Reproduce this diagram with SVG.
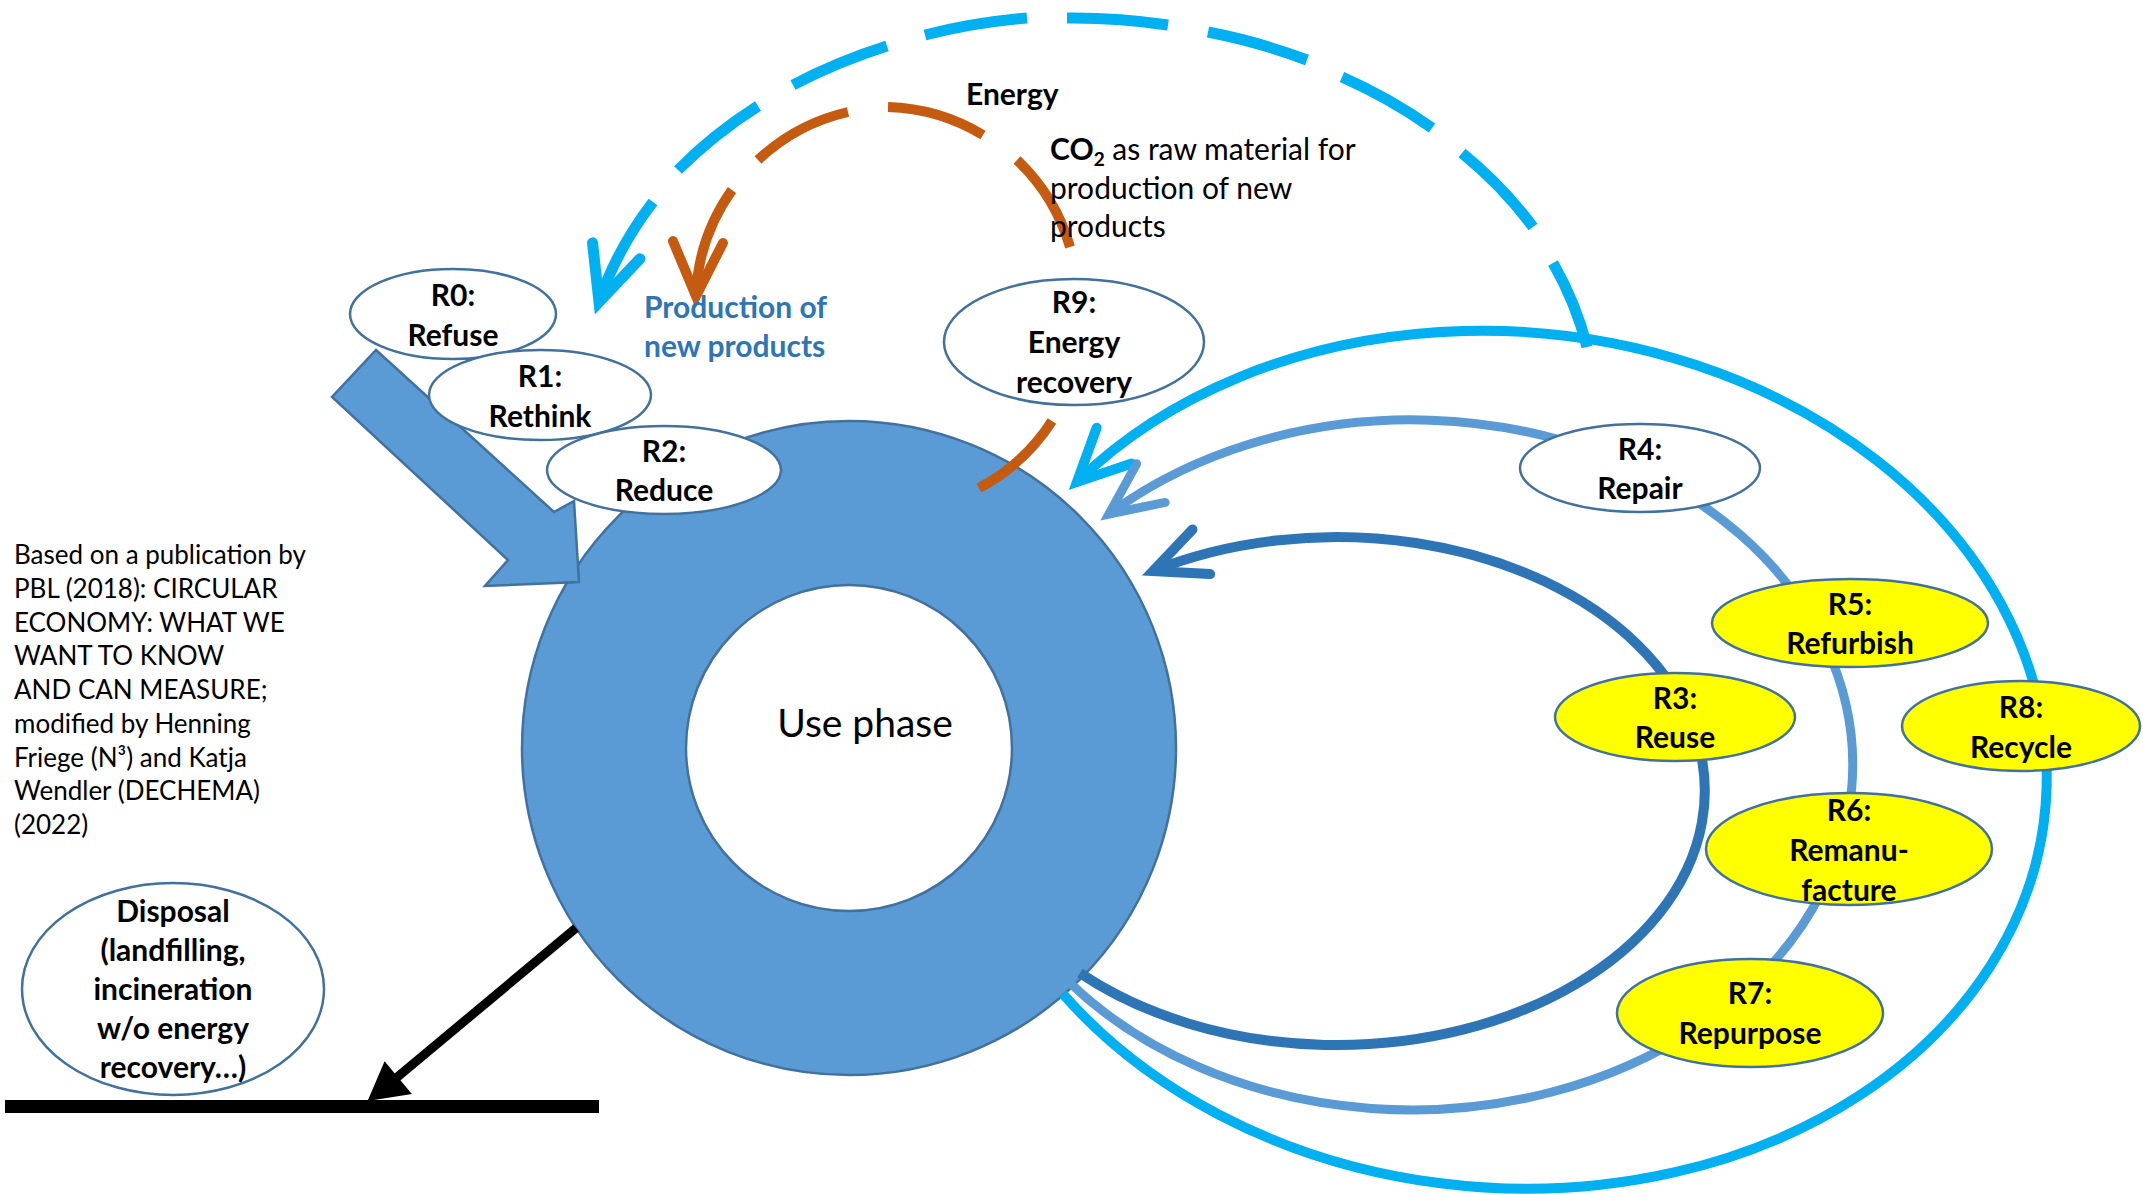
<svg xmlns="http://www.w3.org/2000/svg" width="2143" height="1195" viewBox="0 0 2143 1195">
<style>
.lbl{font-family:Lato,"Liberation Sans",sans-serif;font-weight:bold;font-size:30px;fill:#000;text-anchor:middle}
.note{font-family:Lato,"Liberation Sans",sans-serif;font-size:26px;fill:#000}
.co2{font-family:Lato,"Liberation Sans",sans-serif;font-size:30px;fill:#000}
.node{stroke:#41719C;stroke-width:2.5}
.wf{fill:#fff}
.yf{fill:#FFFF00}
.loop{fill:none}
.dash{fill:none;stroke-linecap:butt}
</style>
<defs>
<marker id="aDark" markerUnits="userSpaceOnUse" orient="auto" overflow="visible" markerWidth="1" markerHeight="1"><path d="M-52,-24 L0,0 L-52,24" fill="none" stroke="#2E75B6" stroke-width="10" stroke-linecap="round"/></marker>
<marker id="aMid" markerUnits="userSpaceOnUse" orient="auto" overflow="visible" markerWidth="1" markerHeight="1"><path d="M-52,-24 L0,0 L-52,24" fill="none" stroke="#5B9BD5" stroke-width="9" stroke-linecap="round"/></marker>
<marker id="aCyan" markerUnits="userSpaceOnUse" orient="auto" overflow="visible" markerWidth="1" markerHeight="1"><path d="M-52,-25 L0,0 L-52,25" fill="none" stroke="#00B0F0" stroke-width="10" stroke-linecap="round"/></marker>
<marker id="aCyanD" markerUnits="userSpaceOnUse" orient="auto" overflow="visible" markerWidth="1" markerHeight="1"><path d="M-54,-25 L0,0 L-54,25" fill="none" stroke="#00B0F0" stroke-width="11" stroke-linecap="round"/></marker>
<marker id="aOrange" markerUnits="userSpaceOnUse" orient="auto" overflow="visible" markerWidth="1" markerHeight="1"><path d="M-54,-25 L0,0 L-54,25" fill="none" stroke="#C55A11" stroke-width="10" stroke-linecap="round"/></marker>
</defs>
<rect width="2143" height="1195" fill="#fff"/>

<g id="use-phase">
<circle cx="849" cy="748" r="327" fill="#5B9BD5" class="node"/>
<circle cx="849" cy="748" r="163" class="node wf"/>
<text x="865" y="737" style="font-family:Lato,'Liberation Sans',sans-serif;font-size:39px;text-anchor:middle">Use phase</text>
</g>

<g id="connectors">
<path class="loop" stroke="#00B0F0" stroke-width="10" d="M1063,994 A543,428 5 1 0 1077,482" marker-end="url(#aCyan)"/>
<path class="loop" stroke="#5B9BD5" stroke-width="9" d="M1069,982 A441,345 0 1 0 1109,514" marker-end="url(#aMid)"/>
<path class="loop" stroke="#2E75B6" stroke-width="10" d="M1080,973 A368,254 0 1 0 1153,571" marker-end="url(#aDark)"/>
<g class="dash" stroke="#00B0F0" stroke-width="11">
<path d="M1587,347 A502,387 0 0 0 1553,263"/>
<path d="M1533,227 A502,387 0 0 0 1462,153"/>
<path d="M1432,128 A502,387 0 0 0 1342,77"/>
<path d="M1307,60 A502,387 0 0 0 1208,32"/>
<path d="M1168,25 A502,387 0 0 0 1067,18"/>
<path d="M1027,18 A502,387 0 0 0 925,35"/>
<path d="M887,46 A502,387 0 0 0 793,85"/>
<path d="M758,106 A502,387 0 0 0 678,170"/>
<path d="M653,202 A502,387 0 0 0 599,302" marker-end="url(#aCyanD)"/>
</g>
<g class="dash" stroke="#C55A11" stroke-width="10">
<path d="M979,488 A195,195 0 0 0 1052,421"/>
<path d="M1070,247 A195,195 0 0 0 1017,160"/>
<path d="M983,135 A195,195 0 0 0 888,107"/>
<path d="M848,112 A195,195 0 0 0 758,160"/>
<path d="M732,190 A195,195 0 0 0 696,296" marker-end="url(#aOrange)"/>
</g>
<line x1="576" y1="928" x2="395" y2="1079" stroke="#000" stroke-width="9"/>
<polygon points="370,1099 385,1064 409,1093" fill="#000" stroke="#000" stroke-width="3" stroke-linejoin="miter"/>
</g>

<g id="ground">
<rect x="5" y="1100" width="594" height="13" fill="#000"/>
</g>

<g id="inflow-arrow">
<polygon points="376,350 554,512 574,501 579,582 485,586 508,560 332,397" fill="#5B9BD5" stroke="#41719C" stroke-width="2.5" stroke-linejoin="miter"/>
</g>

<g id="R0"><ellipse cx="453" cy="314" rx="103" ry="45" class="node wf"/><text class="lbl" x="453" y="306">R0:</text><text class="lbl" x="453" y="346">Refuse</text></g>
<g id="R1"><ellipse cx="540" cy="395" rx="111" ry="45" class="node wf"/><text class="lbl" x="540" y="387">R1:</text><text class="lbl" x="540" y="427">Rethink</text></g>
<g id="R2"><ellipse cx="664" cy="470" rx="117" ry="44" class="node wf"/><text class="lbl" x="664" y="462">R2:</text><text class="lbl" x="664" y="501">Reduce</text></g>
<g id="R9"><ellipse cx="1074" cy="342" rx="130" ry="63" class="node wf"/><text class="lbl" x="1074" y="313">R9:</text><text class="lbl" x="1074" y="353">Energy</text><text class="lbl" x="1074" y="393">recovery</text></g>
<g id="R4"><ellipse cx="1640" cy="468" rx="120" ry="44" class="node wf"/><text class="lbl" x="1640" y="460">R4:</text><text class="lbl" x="1640" y="499">Repair</text></g>
<g id="R5"><ellipse cx="1850" cy="623" rx="138" ry="44" class="node yf"/><text class="lbl" x="1850" y="615">R5:</text><text class="lbl" x="1850" y="654">Refurbish</text></g>
<g id="R3"><ellipse cx="1675" cy="717" rx="120" ry="44" class="node yf"/><text class="lbl" x="1675" y="709">R3:</text><text class="lbl" x="1675" y="748">Reuse</text></g>
<g id="R8"><ellipse cx="2021" cy="726" rx="119" ry="45" class="node yf"/><text class="lbl" x="2021" y="718">R8:</text><text class="lbl" x="2021" y="758">Recycle</text></g>
<g id="R6"><ellipse cx="1849" cy="849" rx="143" ry="56" class="node yf"/><text class="lbl" x="1849" y="821">R6:</text><text class="lbl" x="1849" y="861">Remanu-</text><text class="lbl" x="1849" y="901">facture</text></g>
<g id="R7"><ellipse cx="1750" cy="1013" rx="133" ry="54" class="node yf"/><text class="lbl" x="1750" y="1004">R7:</text><text class="lbl" x="1750" y="1044">Repurpose</text></g>
<g id="disposal"><ellipse cx="173" cy="989" rx="151" ry="106" class="node wf"/>
<text class="lbl" x="173" y="922">Disposal</text><text class="lbl" x="173" y="961">(landfilling,</text><text class="lbl" x="173" y="1000">incineration</text><text class="lbl" x="173" y="1039">w/o energy</text><text class="lbl" x="173" y="1078">recovery…)</text></g>

<g id="production-label"><text class="lbl" style="text-anchor:start;fill:#2E75B6" x="644" y="318">Production of</text><text class="lbl" style="text-anchor:start;fill:#2E75B6" x="644" y="357">new products</text></g>
<g id="energy-label"><text class="lbl" style="text-anchor:start" x="966" y="105">Energy</text></g>
<g id="co2-label">
<text class="co2" x="1050" y="160"><tspan font-weight="bold">CO</tspan><tspan font-weight="bold" font-size="19" dy="6">2</tspan><tspan dy="-6"> as raw material for</tspan></text>
<text class="co2" x="1050" y="199">production of new</text>
<text class="co2" x="1050" y="237">products</text>
</g>
<g id="source-note">
<text class="note" x="14" y="564">Based on a publication by</text>
<text class="note" x="14" y="598">PBL (2018): CIRCULAR</text>
<text class="note" x="14" y="632">ECONOMY: WHAT WE</text>
<text class="note" x="14" y="665">WANT TO KNOW</text>
<text class="note" x="14" y="699">AND CAN MEASURE;</text>
<text class="note" x="14" y="733">modified by Henning</text>
<text class="note" x="14" y="767">Friege (N³) and Katja</text>
<text class="note" x="14" y="800">Wendler (DECHEMA)</text>
<text class="note" x="14" y="834">(2022)</text>
</g>
</svg>
